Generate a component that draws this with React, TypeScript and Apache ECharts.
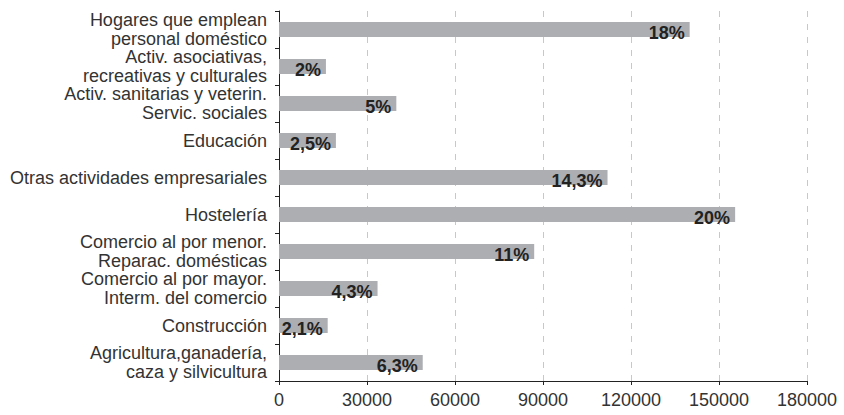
import React, { useEffect, useRef } from "react";
import * as echarts from "echarts";

const categories = [
  "Agricultura,ganadería,\ncaza y silvicultura",
  "Construcción",
  "Comercio al por mayor.\nInterm. del comercio",
  "Comercio al por menor.\nReparac. domésticas",
  "Hostelería",
  "Otras actividades empresariales",
  "Educación",
  "Activ. sanitarias y veterin.\nServic. sociales",
  "Activ. asociativas,\nrecreativas y culturales",
  "Hogares que emplean\npersonal doméstico",
];
const values = [49000, 16600, 33600, 87000, 155500, 112000, 19400, 40000, 16000, 140000];
const percentLabels = ["6,3%", "2,1%", "4,3%", "11%", "20%", "14,3%", "2,5%", "5%", "2%", "18%"];
const xTicks = [0, 30000, 60000, 90000, 120000, 150000, 180000];

const FONT = "'Liberation Sans', Arial, sans-serif";

export default function App() {
  const ref = useRef<HTMLDivElement>(null);
  useEffect(() => {
    if (!ref.current) return;
    const chart = echarts.init(ref.current, undefined, { renderer: "svg" });
    chart.setOption({
      animation: false,
      grid: { left: 279, right: 37, top: 11, bottom: 34, containLabel: false },
      xAxis: {
        type: "value",
        min: xTicks[0],
        max: xTicks[xTicks.length - 1],
        interval: 30000,
        axisLine: { show: true, lineStyle: { color: "#222", width: 1 } },
        axisTick: { show: true, length: 4, lineStyle: { color: "#222" } },
        axisLabel: {
          color: "#333",
          fontFamily: FONT,
          fontSize: 18,
          margin: 10,
          formatter: (v: number) => String(v),
        },
        splitLine: { show: true, lineStyle: { color: "#c8c8c8", type: [6, 7], width: 1 } },
      },
      yAxis: {
        type: "category",
        data: categories,
        axisLine: { show: true, lineStyle: { color: "#222", width: 1 } },
        axisTick: { show: true, length: 4, interval: 0, lineStyle: { color: "#222" } },
        axisLabel: {
          color: "#333",
          fontFamily: FONT,
          fontSize: 18,
          lineHeight: 19,
          margin: 12,
          align: "right",
          interval: 0,
          hideOverlap: false,
        },
        splitLine: { show: false },
      },
      series: [
        {
          type: "bar",
          data: values,
          barWidth: 15,
          itemStyle: { color: "#adaeb2" },
          label: {
            show: true,
            position: "insideRight",
            offset: [0, 3],
            distance: 5,
            color: "#222",
            fontFamily: FONT,
            fontWeight: "bold",
            fontSize: 18,
            formatter: (p: any) => percentLabels[p.dataIndex],
          },
        },
      ],
    });
    return () => chart.dispose();
  }, []);
  return <div ref={ref} style={{ width: 844, height: 415, position: "absolute", left: 0, top: 0 }} />;
}
